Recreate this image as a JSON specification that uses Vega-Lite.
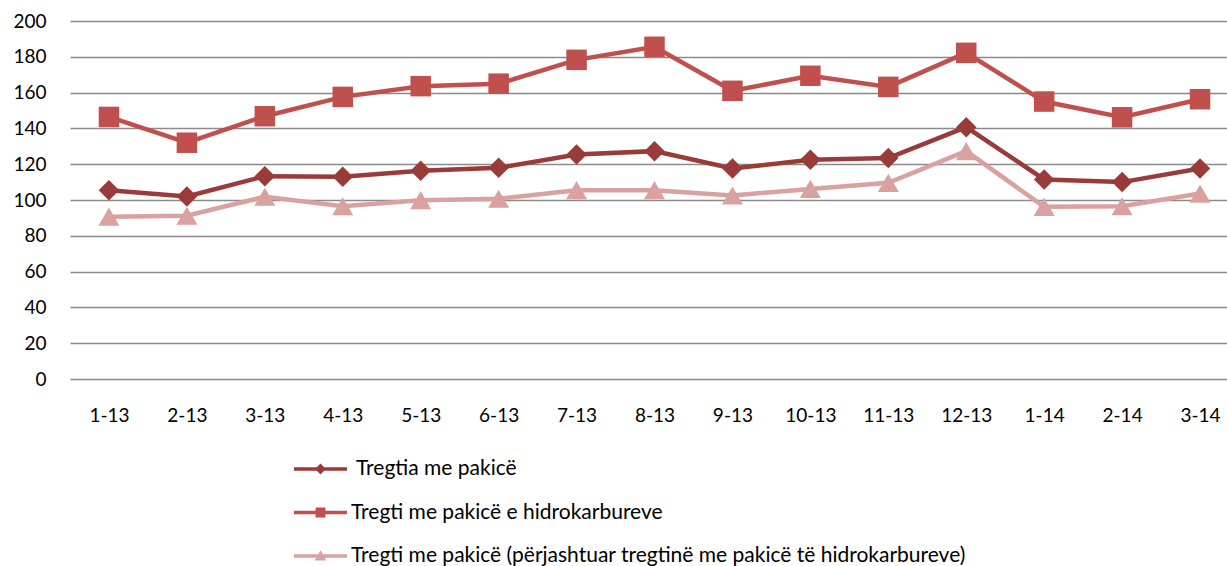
{
  "$schema": "https://vega.github.io/schema/vega-lite/v6.json",
  "width": 1169,
  "height": 358,
  "autosize": {"type": "none"},
  "padding": {"left": 70, "top": 21, "right": 0, "bottom": 187},
  "background": "white",
  "config": {"view": {"stroke": null}, "font": "Lato"},
  "data": {
    "values": [
      {"m": "1-13", "series": "Tregtia me pakicë", "v": 105.5},
      {"m": "2-13", "series": "Tregtia me pakicë", "v": 102},
      {"m": "3-13", "series": "Tregtia me pakicë", "v": 113.3},
      {"m": "4-13", "series": "Tregtia me pakicë", "v": 113},
      {"m": "5-13", "series": "Tregtia me pakicë", "v": 116.3},
      {"m": "6-13", "series": "Tregtia me pakicë", "v": 118},
      {"m": "7-13", "series": "Tregtia me pakicë", "v": 125.4},
      {"m": "8-13", "series": "Tregtia me pakicë", "v": 127.3},
      {"m": "9-13", "series": "Tregtia me pakicë", "v": 117.6},
      {"m": "10-13", "series": "Tregtia me pakicë", "v": 122.5},
      {"m": "11-13", "series": "Tregtia me pakicë", "v": 123.4},
      {"m": "12-13", "series": "Tregtia me pakicë", "v": 140.7},
      {"m": "1-14", "series": "Tregtia me pakicë", "v": 111.5},
      {"m": "2-14", "series": "Tregtia me pakicë", "v": 110},
      {"m": "3-14", "series": "Tregtia me pakicë", "v": 117.6},
      {"m": "1-13", "series": "Tregti me pakicë e hidrokarbureve", "v": 146.4},
      {"m": "2-13", "series": "Tregti me pakicë e hidrokarbureve", "v": 132},
      {"m": "3-13", "series": "Tregti me pakicë e hidrokarbureve", "v": 146.8},
      {"m": "4-13", "series": "Tregti me pakicë e hidrokarbureve", "v": 157.6},
      {"m": "5-13", "series": "Tregti me pakicë e hidrokarbureve", "v": 163.6},
      {"m": "6-13", "series": "Tregti me pakicë e hidrokarbureve", "v": 165},
      {"m": "7-13", "series": "Tregti me pakicë e hidrokarbureve", "v": 178.3},
      {"m": "8-13", "series": "Tregti me pakicë e hidrokarbureve", "v": 185.6},
      {"m": "9-13", "series": "Tregti me pakicë e hidrokarbureve", "v": 161},
      {"m": "10-13", "series": "Tregti me pakicë e hidrokarbureve", "v": 169.4},
      {"m": "11-13", "series": "Tregti me pakicë e hidrokarbureve", "v": 163.2},
      {"m": "12-13", "series": "Tregti me pakicë e hidrokarbureve", "v": 182.2},
      {"m": "1-14", "series": "Tregti me pakicë e hidrokarbureve", "v": 155},
      {"m": "2-14", "series": "Tregti me pakicë e hidrokarbureve", "v": 146.2},
      {"m": "3-14", "series": "Tregti me pakicë e hidrokarbureve", "v": 156.3},
      {"m": "1-13", "series": "Tregti me pakicë (përjashtuar tregtinë me pakicë të hidrokarbureve)", "v": 90.7},
      {"m": "2-13", "series": "Tregti me pakicë (përjashtuar tregtinë me pakicë të hidrokarbureve)", "v": 91.2},
      {"m": "3-13", "series": "Tregti me pakicë (përjashtuar tregtinë me pakicë të hidrokarbureve)", "v": 101.8},
      {"m": "4-13", "series": "Tregti me pakicë (përjashtuar tregtinë me pakicë të hidrokarbureve)", "v": 96.5},
      {"m": "5-13", "series": "Tregti me pakicë (përjashtuar tregtinë me pakicë të hidrokarbureve)", "v": 99.9},
      {"m": "6-13", "series": "Tregti me pakicë (përjashtuar tregtinë me pakicë të hidrokarbureve)", "v": 100.7},
      {"m": "7-13", "series": "Tregti me pakicë (përjashtuar tregtinë me pakicë të hidrokarbureve)", "v": 105.5},
      {"m": "8-13", "series": "Tregti me pakicë (përjashtuar tregtinë me pakicë të hidrokarbureve)", "v": 105.5},
      {"m": "9-13", "series": "Tregti me pakicë (përjashtuar tregtinë me pakicë të hidrokarbureve)", "v": 102.5},
      {"m": "10-13", "series": "Tregti me pakicë (përjashtuar tregtinë me pakicë të hidrokarbureve)", "v": 106.2},
      {"m": "11-13", "series": "Tregti me pakicë (përjashtuar tregtinë me pakicë të hidrokarbureve)", "v": 109.6},
      {"m": "12-13", "series": "Tregti me pakicë (përjashtuar tregtinë me pakicë të hidrokarbureve)", "v": 127.3},
      {"m": "1-14", "series": "Tregti me pakicë (përjashtuar tregtinë me pakicë të hidrokarbureve)", "v": 96.2},
      {"m": "2-14", "series": "Tregti me pakicë (përjashtuar tregtinë me pakicë të hidrokarbureve)", "v": 96.5},
      {"m": "3-14", "series": "Tregti me pakicë (përjashtuar tregtinë me pakicë të hidrokarbureve)", "v": 103.6}
    ]
  },
  "encoding": {
    "x": {
      "field": "m", "type": "ordinal", "sort": null,
      "scale": {"type": "point", "padding": 0.5},
      "axis": {"title": null, "labelAngle": 0, "ticks": false, "domain": false, "grid": false,
               "labelFont": "Lato", "labelFontSize": 19, "labelColor": "#000", "labelPadding": 27}
    },
    "y": {
      "field": "v", "type": "quantitative",
      "scale": {"domain": [0, 200], "nice": false},
      "axis": {"title": null, "values": [0, 20, 40, 60, 80, 100, 120, 140, 160, 180, 200],
               "ticks": false, "domain": false, "labelFont": "Lato", "labelFontSize": 19,
               "labelColor": "#000", "labelPadding": 24, "gridColor": "#8a8a8a",
               "gridWidth": 1.3, "gridOpacity": 1}
    },
    "color": {
      "field": "series", "type": "nominal",
      "scale": {
        "domain": ["Tregtia me pakicë", "Tregti me pakicë e hidrokarbureve", "Tregti me pakicë (përjashtuar tregtinë me pakicë të hidrokarbureve)"],
        "range": ["#993B38", "#C0504D", "#D9A19F"]
      },
      "legend": {
        "orient": "none", "legendX": 240, "legendY": 437.5, "direction": "vertical",
        "title": null, "labelFont": "Lato", "labelFontSize": 21, "labelColor": "#000",
        "labelLimit": 0, "labelOffset": 20, "symbolSize": 324, "rowPadding": 21.5,
        "encode": {
          "symbols": {
            "update": {
              "shape": {"signal": "datum.index === 0 ? 'M-2.95,-0.2H2.95V0.2H-2.95Z M0,-0.6L0.6,0L0,0.6L-0.6,0Z' : datum.index === 1 ? 'M-2.95,-0.2H2.95V0.2H-2.95Z M-0.55,-0.55H0.55V0.55H-0.55Z' : 'M-2.95,-0.2H2.95V0.2H-2.95Z M0,-0.65L0.65,0.5H-0.65Z'"},
              "fill": {"signal": "datum.index === 0 ? '#993B38' : datum.index === 1 ? '#C0504D' : '#D9A19F'"},
              "stroke": {"value": "transparent"},
              "strokeWidth": {"value": 0},
              "opacity": {"value": 1},
              "fillOpacity": {"value": 1}
            }
          },
          "labels": {
            "update": {
              "dx": {"signal": "datum.index === 0 ? 5 : 0"}
            }
          }
        }
      }
    }
  },
  "layer": [
    {"mark": {"type": "line", "strokeWidth": 4.5}},
    {
      "transform": [{"filter": {"field": "series", "equal": "Tregtia me pakicë"}}],
      "mark": {"type": "point", "filled": true, "opacity": 1, "size": 420, "shape": "diamond"}
    },
    {
      "transform": [{"filter": {"field": "series", "equal": "Tregti me pakicë e hidrokarbureve"}}],
      "mark": {"type": "point", "filled": true, "opacity": 1, "size": 420, "shape": "square"}
    },
    {
      "transform": [{"filter": {"field": "series", "equal": "Tregti me pakicë (përjashtuar tregtinë me pakicë të hidrokarbureve)"}}],
      "mark": {"type": "point", "filled": true, "opacity": 1, "size": 440, "shape": "triangle-up"}
    }
  ]
}
